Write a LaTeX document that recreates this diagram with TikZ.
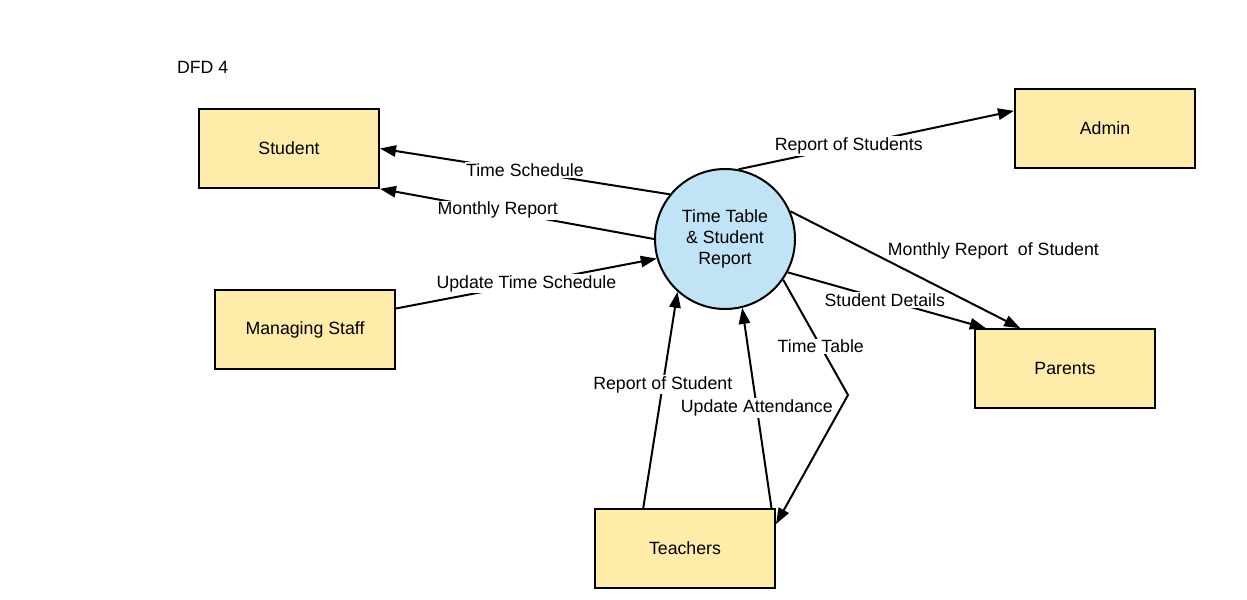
\documentclass[tikz,border=0pt]{standalone}
\usepackage{fontspec}
\setmainfont{Liberation Sans}
\usetikzlibrary{arrows.meta,positioning,shapes}
\definecolor{boxyellow}{RGB}{254,236,168}
\definecolor{procblue}{RGB}{193,227,246}
\tikzstyle{entity}=[rectangle,line width=1.5pt,draw=black,fill=boxyellow,
minimum width=135pt,minimum height=59pt]
\tikzstyle{process}=[circle,line width=1.5pt,draw=black,fill=procblue,
minimum size=105pt,align=center,inner sep=0pt]
\tikzstyle{flow}=[fill=white,inner sep=1pt]

\begin{document}
\begin{tikzpicture}[x=0.75pt,y=-0.75pt,line width=1.5pt,
    >={Triangle[length=12pt,width=8.5pt]},
    every node/.style={font=\fontsize{13.3}{16}\selectfont}]
            \useasboundingbox (0,0) rectangle (1247,600);

            % ENTITIES

            \node[anchor=west,inner sep=0pt] (title) at (176,67) {DFD 4};
            \node[entity] (e1) at (289,148.5) {Student};
            \node[entity] (e2) at (1105,128.5) {Admin};
            \node[entity] (e3) at (305,329.5) {Managing Staff};
            \node[entity] (e4) at (1065,368.5) {Parents};
            \node[entity] (e5) at (685,548.5) {Teachers};

            % PROCESS

            \node[process] (p1) at (725,239) {Time Table\\\& Student\\Report};
            \coordinate (b1) at (848,395);

            % FLOWS

            \draw[->] (p1.141) -- node[flow,pos=0.5,yshift=1pt] {Time Schedule} (e1.east);
            \draw[->] (p1.180) -- node[flow,pos=0.57] {Monthly Report} (e1.south east);
            \draw[->] (e3.13) -- node[flow,pos=0.5] {Update Time Schedule} (p1.196);
            \draw[->] (p1.79) -- node[flow,pos=0.4] {Report of Students} (e2.169);
            \draw[->] (p1.23) -- node[pos=0.42,anchor=south west,inner sep=0pt] {Monthly Report\ \ of Student} (e4.138);
            \draw[->] (p1.332) -- node[flow,pos=0.49] {Student Details} (e4.153);
            \draw[->] (p1.325) -- node[flow,pos=0.58] {Time Table} (b1) -- (e5.15);
            \draw[->] (e5.136) -- node[flow,pos=0.57] {Report of Student} (p1.228);
            \draw[->] (e5.25) -- node[flow,pos=0.5] {Update Attendance} (p1.284);

\end{tikzpicture}
\end{document}
